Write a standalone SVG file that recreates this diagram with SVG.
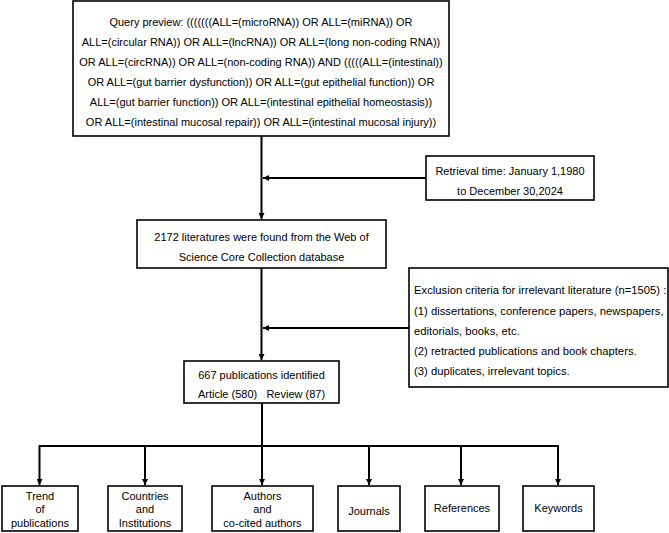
<svg xmlns="http://www.w3.org/2000/svg" width="669" height="533" viewBox="0 0 669 533">
<style>
  .box { fill: #ffffff; stroke: #000000; stroke-width: 1.6; }
  .t { font-family: "Liberation Sans", Arial, sans-serif; font-size: 11px; fill: #000000; }
  .c { text-anchor: middle; }
  .ex { font-size: 11.25px; }
  .conn { fill: none; stroke: #000000; stroke-width: 2; }
</style>
<defs>
  <marker id="arr" markerUnits="userSpaceOnUse" markerWidth="6" markerHeight="6" refX="6" refY="3" orient="auto">
    <path d="M0,0 L6,3 L0,6 z" fill="#000000"/>
  </marker>
</defs>
<rect width="669" height="533" fill="#ffffff"/>

<g id="connectors">
  <line class="conn" x1="261.5" y1="136" x2="261.5" y2="219" marker-end="url(#arr)"/>
  <line class="conn" x1="426" y1="178" x2="263" y2="178" marker-end="url(#arr)"/>
  <line class="conn" x1="261.5" y1="268" x2="261.5" y2="360" marker-end="url(#arr)"/>
  <line class="conn" x1="409" y1="328" x2="263" y2="328" marker-end="url(#arr)"/>
  <line class="conn" x1="262" y1="403" x2="262" y2="446"/>
  <line class="conn" x1="39.5" y1="446" x2="558.5" y2="446"/>
  <line class="conn" x1="39.5" y1="445" x2="39.5" y2="485" marker-end="url(#arr)"/>
  <line class="conn" x1="145" y1="445" x2="145" y2="485" marker-end="url(#arr)"/>
  <line class="conn" x1="262" y1="445" x2="262" y2="485" marker-end="url(#arr)"/>
  <line class="conn" x1="369" y1="445" x2="369" y2="485" marker-end="url(#arr)"/>
  <line class="conn" x1="461" y1="445" x2="461" y2="485" marker-end="url(#arr)"/>
  <line class="conn" x1="558" y1="445" x2="558" y2="485" marker-end="url(#arr)"/>
</g>

<g id="query">
  <rect class="box" x="73" y="1" width="376" height="135"/>
  <text class="t c" x="261" y="26">Query preview: (((((((ALL=(microRNA)) OR ALL=(miRNA)) OR</text>
  <text class="t c" x="261" y="46">ALL=(circular RNA)) OR ALL=(lncRNA)) OR ALL=(long non-coding RNA))</text>
  <text class="t c" x="261" y="66">OR ALL=(circRNA)) OR ALL=(non-coding RNA)) AND (((((ALL=(intestinal))</text>
  <text class="t c" x="261" y="86">OR ALL=(gut barrier dysfunction)) OR ALL=(gut epithelial function)) OR</text>
  <text class="t c" x="261" y="106">ALL=(gut barrier function)) OR ALL=(intestinal epithelial homeostasis))</text>
  <text class="t c" x="261" y="126">OR ALL=(intestinal mucosal repair)) OR ALL=(intestinal mucosal injury))</text>
</g>

<g id="retrieval">
  <rect class="box" x="426" y="156" width="168" height="44"/>
  <text class="t c" x="510" y="175">Retrieval time: January 1,1980</text>
  <text class="t c" x="510" y="195">to December 30,2024</text>
</g>

<g id="found">
  <rect class="box" x="137" y="220" width="249" height="48"/>
  <text class="t c" x="261.5" y="240.5">2172 literatures were found from the Web of</text>
  <text class="t c" x="261.5" y="261">Science Core Collection database</text>
</g>

<g id="exclusion">
  <rect class="box" x="409" y="268" width="259" height="119"/>
  <text class="t ex" x="414" y="294">Exclusion criteria for irrelevant literature (n=1505) :</text>
  <text class="t ex" x="414" y="314.5">(1) dissertations, conference papers, newspapers,</text>
  <text class="t ex" x="414" y="334.5">editorials, books, etc.</text>
  <text class="t ex" x="414" y="354.5">(2) retracted publications and book chapters.</text>
  <text class="t ex" x="414" y="375">(3) duplicates, irrelevant topics.</text>
</g>

<g id="identified">
  <rect class="box" x="184" y="361" width="155" height="42"/>
  <text class="t c" x="261.5" y="378.7">667 publications identified</text>
  <text class="t c" x="261.5" y="398.3" xml:space="preserve">Article (580)   Review (87)</text>
</g>

<g id="trend">
  <rect class="box" x="2" y="486" width="76" height="45"/>
  <text class="t c" x="40" y="500">Trend</text>
  <text class="t c" x="40" y="513.3">of</text>
  <text class="t c" x="40" y="526.7">publications</text>
</g>

<g id="countries">
  <rect class="box" x="108" y="486" width="74" height="45"/>
  <text class="t c" x="145" y="500">Countries</text>
  <text class="t c" x="145" y="513.3">and</text>
  <text class="t c" x="145" y="526.7">Institutions</text>
</g>

<g id="authors">
  <rect class="box" x="212" y="486" width="101" height="45"/>
  <text class="t c" x="262.5" y="500">Authors</text>
  <text class="t c" x="262.5" y="513.3">and</text>
  <text class="t c" x="262.5" y="526.7">co-cited authors</text>
</g>

<g id="journals">
  <rect class="box" x="338" y="486" width="62" height="45"/>
  <text class="t c" x="369" y="514.7">Journals</text>
</g>

<g id="references">
  <rect class="box" x="425" y="486" width="74" height="45"/>
  <text class="t c" x="462" y="512.3">References</text>
</g>

<g id="keywords">
  <rect class="box" x="523" y="486" width="71" height="45"/>
  <text class="t c" x="558.5" y="512.3">Keywords</text>
</g>
</svg>
